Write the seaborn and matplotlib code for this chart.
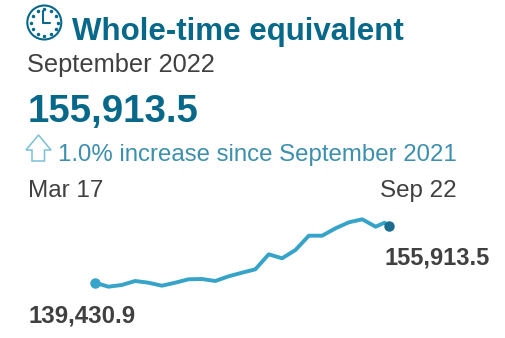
import matplotlib
matplotlib.use("Agg")
import matplotlib.pyplot as plt
from matplotlib.patches import Circle, Polygon
import numpy as np
import pandas as pd
import seaborn as sns

# Whole-time equivalent staff numbers, by months since March 2017
months = [0, 3, 6, 9, 12, 15, 18, 21, 24, 27, 30, 33, 36, 39, 42, 45,
          48, 51, 54, 57, 60, 63, 65, 66]
wte = [139430.9, 138268, 138762, 139925, 139431, 138559, 139431, 140419,
       140507, 139925, 141291, 142338, 143326, 147687, 146524, 148937,
       153094, 153094, 155245, 156989, 157861, 155710, 156873, 155913.5]

title = "Whole-time equivalent"
period = "September 2022"
headline = "155,913.5"
change = "1.0% increase since September 2021"
start_label, end_label = "Mar 17", "Sep 22"
start_value, end_value = "139,430.9", "155,913.5"

TEAL = "#07688a"
LINE = "#36a3c9"
DOT = "#1b6c8e"
GREY = "#404040"
SOFT = "#3d8fae"
W, H = 505, 338

sns.set_theme(style="white")
plt.rcParams["font.family"] = ["Liberation Sans", "DejaVu Sans"]

fig = plt.figure(figsize=(W / 100, H / 100), dpi=100, facecolor="white")

# Trend line axes
ax = fig.add_axes([95 / W, 1 - 290 / H, 294 / W, 75 / H])
df = pd.DataFrame({"month": months, "wte": wte})
sns.lineplot(data=df, x="month", y="wte", ax=ax, color=LINE, lw=2.8,
             errorbar=None, clip_on=False)
ax.plot(df["month"].iloc[[-1]], df["wte"].iloc[[-1]], "o", ms=6.5,
        color=DOT, clip_on=False, zorder=5)
ax.plot(df["month"].iloc[[0]], df["wte"].iloc[[0]], "o", ms=6.5,
        color=LINE, clip_on=False, zorder=6)
ax.set_xlim(0, 66)
ax.set_ylim(137309, 159111)
ax.axis("off")

# Pixel-space overlay for the header block, labels and icons
ov = fig.add_axes([0, 0, 1, 1], facecolor="none")
ov.set_xlim(0, W)
ov.set_ylim(H, 0)
ov.axis("off")


def label(x, y, s, size, color, weight="normal", ha="left"):
    ov.text(x, y, s, fontsize=size, color=color, fontweight=weight,
            ha=ha, va="baseline")


label(72, 40, title, 22.5, TEAL, "bold")
label(27, 72, period, 18.3, GREY)
label(28, 122, headline, 27.7, TEAL, "bold")
label(58, 161, change, 17.25, SOFT)
label(28, 197, start_label, 17.5, GREY)
label(380, 197, end_label, 17.4, GREY)
label(384, 265, end_value, 17, GREY, "bold")
label(29, 323, start_value, 17.3, GREY, "bold")

# Clock icon
cx, cy = 44.3, 22.5
ov.add_patch(Circle((cx, cy), 17, fill=False, ec=TEAL, lw=1.5))
for a in np.arange(0, 360, 30):
    r = np.deg2rad(a)
    ov.plot(cx + 13.5 * np.cos(r), cy + 13.5 * np.sin(r), "o", ms=1.5, color=TEAL)
ov.plot([cx - 1, cx - 1, cx + 6], [cy - 12, cy, cy], color=TEAL, lw=1.5)

# Up-arrow outline
ov.add_patch(Polygon([(38.5, 135), (51, 150), (44.5, 150), (44.5, 161),
                      (32, 161), (32, 150), (26, 150)],
                     closed=True, fill=False, ec="#7cc0d8", lw=1.1))

fig.savefig("out.png", dpi=100)
